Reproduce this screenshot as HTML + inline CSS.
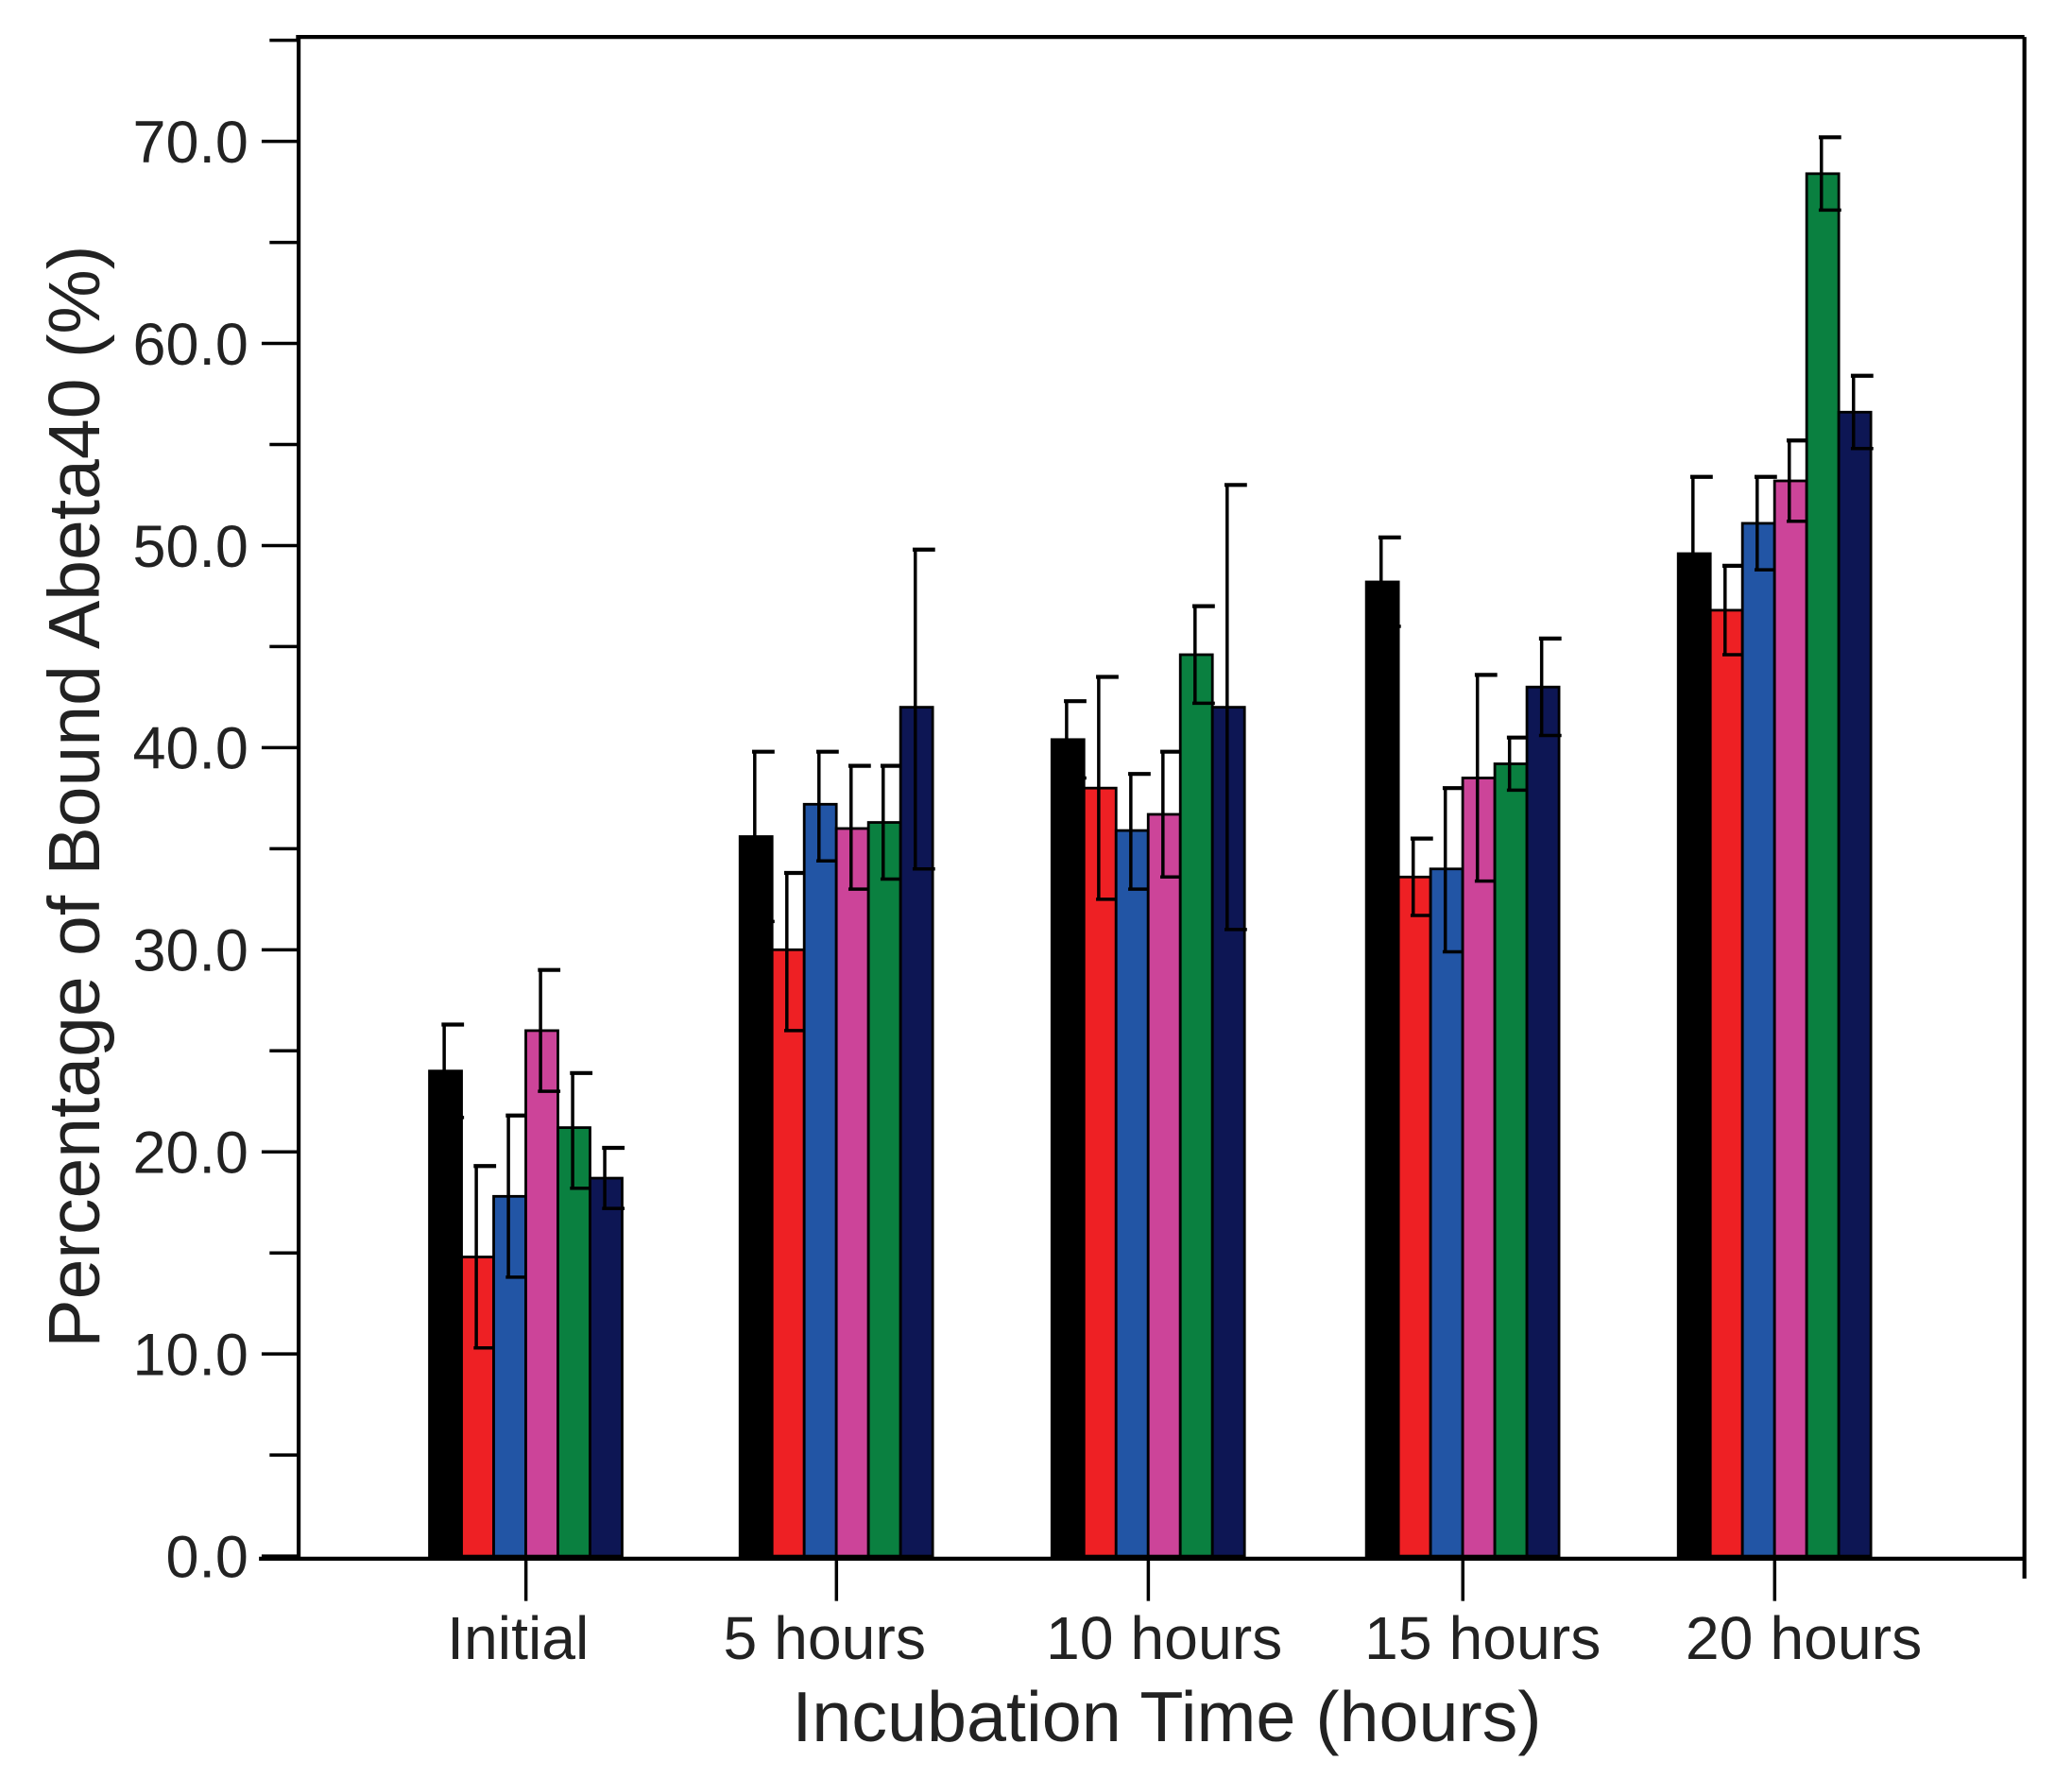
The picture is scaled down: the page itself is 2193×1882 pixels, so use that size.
<!DOCTYPE html>
<html><head><meta charset="utf-8"><style>html,body{margin:0;padding:0;background:#fff}svg{display:block}</style></head>
<body>
<svg width="2193" height="1882" viewBox="0 0 1568 1346" preserveAspectRatio="none" xmlns="http://www.w3.org/2000/svg" font-family="Liberation Sans, sans-serif">
<rect width="1568" height="1346" fill="#fff"/>
<g stroke="#000" stroke-width="3" fill="none">
<line x1="226" y1="28" x2="226" y2="1181"/>
<line x1="224" y1="28" x2="1532" y2="28"/>
<line x1="1532" y1="28" x2="1532" y2="1195"/>
<line x1="196" y1="1180" x2="1532" y2="1180"/>
</g>
<g id="yt" stroke="#000" stroke-width="2.5"></g>
<g id="ylab" font-size="45" fill="#222" text-anchor="end"></g>
<g id="bars"></g>
<g id="xt" stroke="#000" stroke-width="2.5"></g>
<g font-size="46" fill="#222" text-anchor="middle">
<text x="392" y="1256">Initial</text>
<text x="624" y="1256">5 hours</text>
<text x="881" y="1256">10 hours</text>
<text x="1122" y="1256">15 hours</text>
<text x="1365" y="1256">20 hours</text>
</g>
<text x="883" y="1318" font-size="54" fill="#222" text-anchor="middle">Incubation Time (hours)</text>
<text transform="translate(75,603) rotate(-90)" font-size="55" fill="#222" text-anchor="middle">Percentage of Bound Abeta40 (%)</text>
<script>
var NS="http://www.w3.org/2000/svg";
function el(p,t,a,txt){var e=document.createElementNS(NS,t);for(var k in a)e.setAttribute(k,a[k]);if(txt!=null)e.textContent=txt;document.getElementById(p).appendChild(e);}
function Y(v){return 1178-15.3*v;}
for(var v=0;v<=75;v+=5){var maj=v%10==0;el("yt","line",{x1:maj?198:204,x2:226,y1:Y(v),y2:Y(v)});if(maj)el("ylab","text",{x:188,y:Y(v)+16},v.toFixed(1));}
var centers=[398,633,869,1107,1343];
centers.forEach(function(c){el("xt","line",{x1:c,x2:c,y1:1180,y2:1212});});
var cols=["#000000","#ee2024","#2255a5","#cc4499","#0a8040","#0d1654"];
var d=[
[[24,26.3,21.7],[14.8,19.3,10.3],[17.8,21.8,13.8],[26,29,23],[21.2,23.9,18.2],[18.7,20.2,17.2]],
[[35.6,39.8,31.4],[30,33.8,26],[37.2,39.8,34.4],[36,39.1,33],[36.3,39.1,33.5],[42,49.8,34]],
[[40.4,42.3,38.5],[38,43.5,32.5],[35.9,38.7,33],[36.7,39.8,33.6],[44.6,47,42.2],[42,53,31]],
[[48.2,50.4,46],[33.6,35.5,31.7],[34,38,29.9],[38.5,43.6,33.4],[39.2,40.5,37.9],[43,45.4,40.6]],
[[49.6,53.4,45.8],[46.8,49,44.6],[51.1,53.4,48.8],[53.2,55.2,51.2],[68.4,70.2,66.6],[56.6,58.4,54.8]]];
var bw=24.3;
d.forEach(function(g,gi){var x0=centers[gi]-73;g.forEach(function(b,i){var x=x0+i*bw;
el("bars","rect",{x:x,y:Y(b[0]),width:bw,height:Y(0)-Y(b[0]),fill:cols[i],stroke:"#000","stroke-width":2});
var cx=x+bw/2-1;
el("bars","line",{x1:cx,x2:cx,y1:Y(b[1]),y2:Y(b[2]),stroke:"#000","stroke-width":2.5});
el("bars","line",{x1:cx-2,x2:cx+15,y1:Y(b[1]),y2:Y(b[1]),stroke:"#000","stroke-width":3});
el("bars","line",{x1:cx-2,x2:cx+15,y1:Y(b[2]),y2:Y(b[2]),stroke:"#000","stroke-width":2.5});
});});
</script>
</svg>
</body></html>
